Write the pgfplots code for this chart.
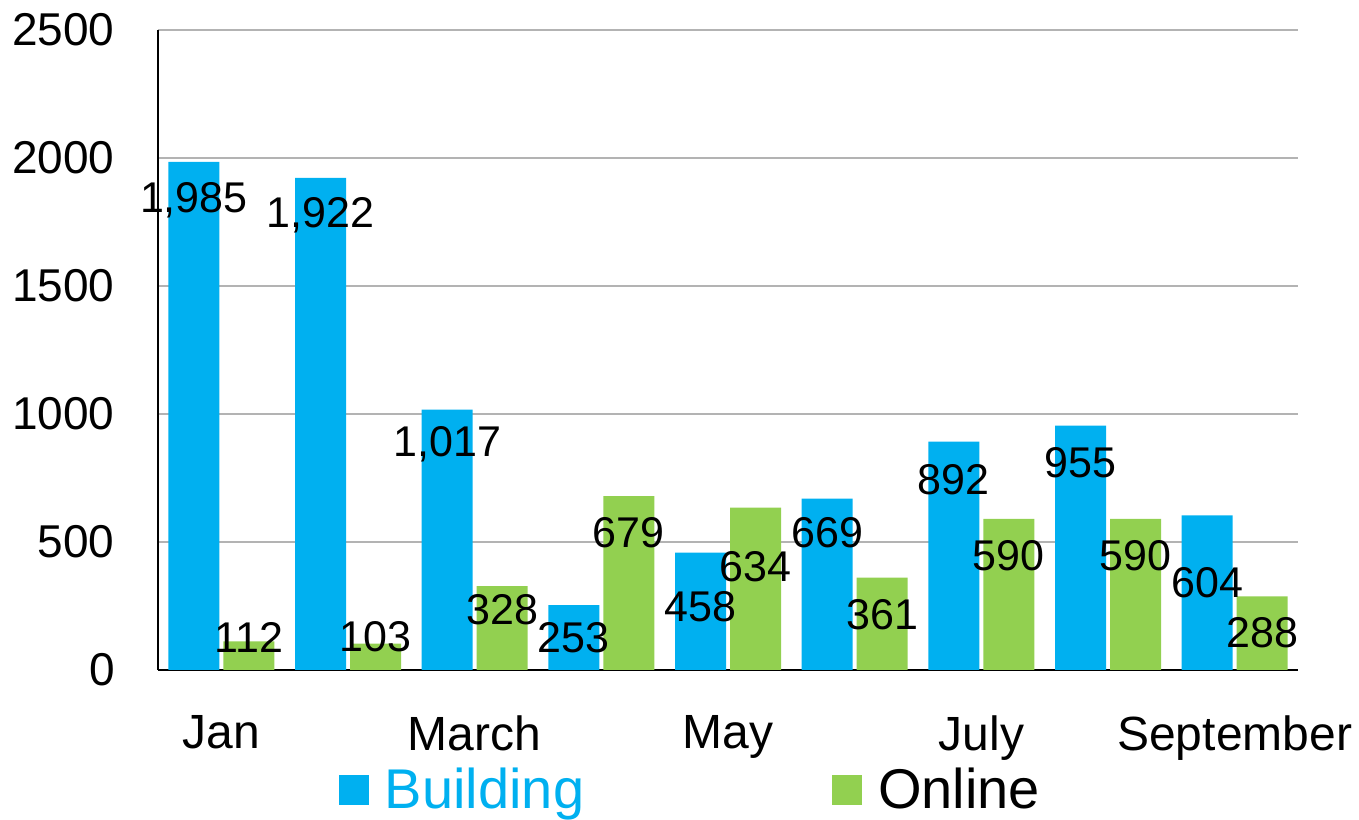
\documentclass[border=0pt]{standalone}
\usepackage{fontspec}
\setmainfont{Liberation Sans}
\usepackage{pgfplots}
\usepackage{pgfplotstable}
\pgfplotsset{compat=1.18}
\definecolor{bblue}{HTML}{00B0F0}
\definecolor{ogreen}{HTML}{92D050}
\definecolor{gridgray}{HTML}{B3B3B3}

% month index, values, and label offsets (pt, from bar top)
\pgfplotstableread{
x b    bdy   o   ody
1 1985 -19   112  2
2 1922 -18.5 103  3.5
3 1017 -17.5 328 -12
4 253  -16   679 -18.5
5 458  -27   634 -29.5
6 669  -17   361 -18.5
7 892  -19   590 -18.5
8 955  -18.5 590 -18.5
9 604  -33.5 288 -18
}\monthdata

\begin{document}
\begin{tikzpicture}
\begin{axis}[
    scale only axis,
    width=570pt, height=320pt,
    xmin=0.5, xmax=9.5,
    ymin=0, ymax=2500,
    enlargelimits=false,
    ytick={0,500,...,2500},
    xtick={1,3,5,7,9},
    xticklabels={Jan,March,May,July,September},
    axis x line*=bottom,
    axis y line*=left,
    axis line style={black, line width=1pt, -},
    major tick length=0pt,
    ymajorgrids,
    grid style={gridgray, line width=0.8pt},
    ybar, bar width=25.5pt,
    /pgf/number format/assume math mode=true,
    /pgf/number format/1000 sep={},
    scaled y ticks=false,
    yticklabel style={font=\fontsize{23}{27}\selectfont, inner sep=0pt, anchor=east, xshift=-21.5pt},
    xticklabel style={font=\fontsize{24}{28}\selectfont, inner sep=0pt, anchor=north, yshift=-22.5pt},
    legend columns=2,
    legend style={at={(0.468,-0.1875)}, anchor=center, draw=none, fill=none,
        font=\fontsize{28}{32}\selectfont,
        /tikz/every odd column/.append style={column sep=6pt},
        /tikz/every even column/.append style={column sep=122pt}},
    legend image code/.code={\fill[#1] (0pt,-7.5pt) rectangle (15pt,7.5pt);},
    every node near coord/.append style={font=\fontsize{21.5}{25}\selectfont, text=black, anchor=center},
]
\addplot[fill=bblue, draw=none, bar shift=-13.75pt] table[x=x, y=b] {\monthdata};
\addplot[fill=ogreen, draw=none, bar shift=13.75pt] table[x=x, y=o] {\monthdata};
\legend{\textcolor{bblue}{Building}, Online}

% value labels drawn last so they sit above all bars
\addplot[draw=none, fill=none, bar shift=-13.75pt, forget plot,
    point meta=y,
    nodes near coords={\pgfmathprintnumber[1000 sep={,}]{\pgfplotspointmeta}},
    visualization depends on={\thisrow{bdy} \as \dy},
    every node near coord/.append style={yshift=\dy pt}]
    table[x=x, y=b] {\monthdata};
\addplot[draw=none, fill=none, bar shift=13.75pt, forget plot,
    point meta=y,
    nodes near coords={\pgfmathprintnumber[1000 sep={,}]{\pgfplotspointmeta}},
    visualization depends on={\thisrow{ody} \as \dy},
    every node near coord/.append style={yshift=\dy pt}]
    table[x=x, y=o] {\monthdata};
\end{axis}
\useasboundingbox (-79pt,-72.5pt) rectangle (600.5pt,335pt);
\end{tikzpicture}
\end{document}
